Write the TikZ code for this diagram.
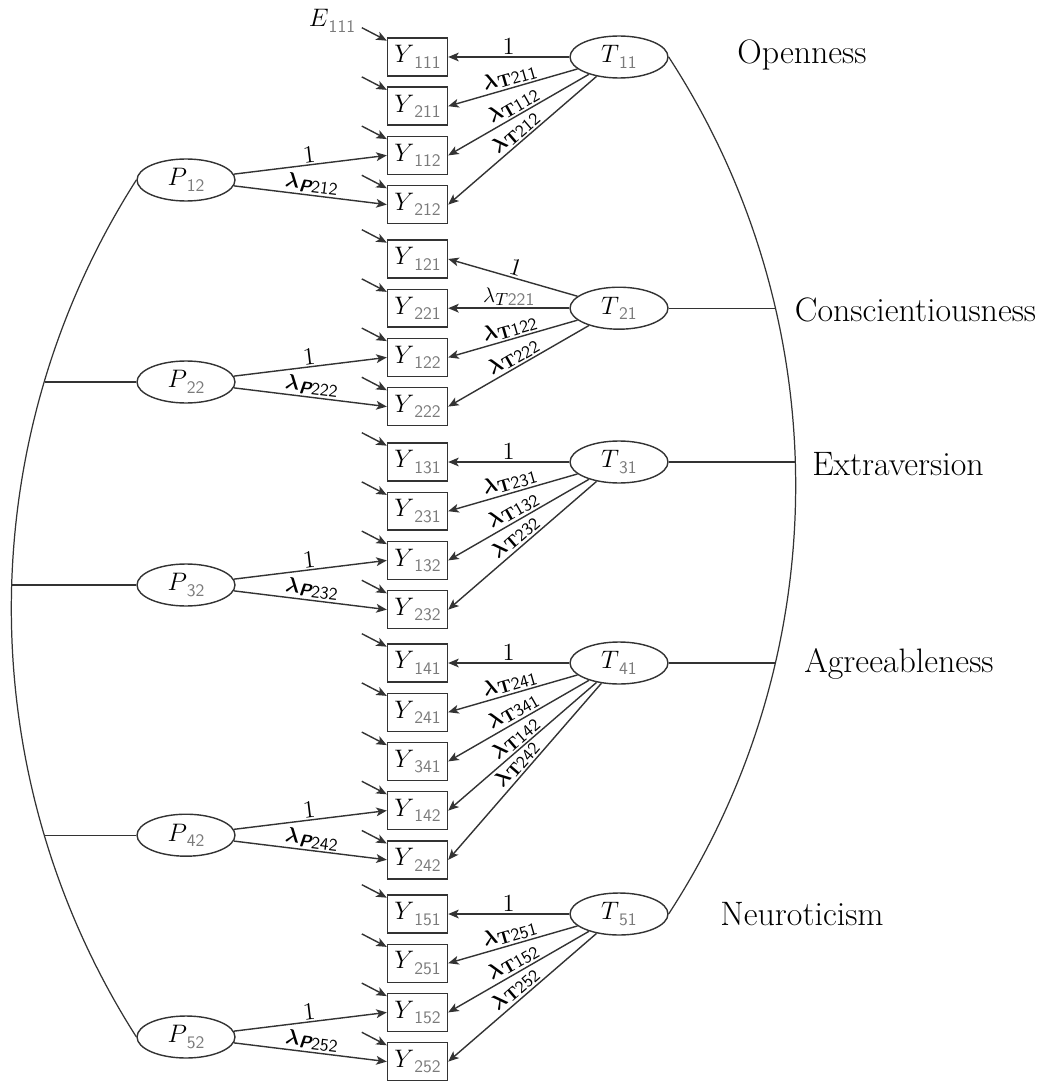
\documentclass[tikz,border=0pt]{standalone}
\usepackage{amsmath,bm}
\usetikzlibrary{arrows.meta,calc,shapes.geometric}
\definecolor{ln}{HTML}{333333}
\definecolor{sg}{HTML}{7A7A7A}
\newcommand{\gsub}[1]{\raisebox{-0.5ex}{\fontsize{10}{10}\selectfont\sffamily\color{sg}#1}}
\newcommand{\labT}[1]{$\bm{\lambda}$\raisebox{-0.3ex}{\fontsize{10}{10}\selectfont\textbf{T}\sffamily #1}}
\newcommand{\labTi}[1]{$\lambda$\raisebox{-0.3ex}{\fontsize{10}{10}\selectfont$T$\sffamily\color{sg}#1}}
\newcommand{\labP}[1]{$\bm{\lambda}$\raisebox{-0.3ex}{\fontsize{10}{10}\selectfont\sffamily\bfseries\itshape P\mdseries\upshape #1}}
\tikzset{
  obs/.style={rectangle, draw=ln, line width=0.8pt, minimum width=1.2cm, minimum height=0.76cm, inner sep=0pt, font=\fontsize{14.5}{14.5}\selectfont},
  lat/.style={ellipse, draw=ln, line width=0.8pt, minimum width=1.96cm, minimum height=0.84cm, inner sep=0pt, font=\fontsize{14.5}{14.5}\selectfont},
  arr/.style={draw=ln, line width=0.8pt, -{Stealth[length=6pt,width=5pt,inset=1.5pt]}},
  rarr/.style={draw=ln, line width=0.8pt, {Stealth[length=6pt,width=5pt,inset=1.5pt]}-},
  lab/.style={midway, above, sloped, inner sep=1pt, font=\fontsize{12.5}{12.5}\selectfont},
  one/.style={lab, font=\fontsize{14}{14}\selectfont},
  conn/.style={draw=ln, line width=0.7pt},
  cat/.style={font=\fontsize{19.3}{19.3}\selectfont}
}
\begin{document}
\begin{tikzpicture}[x=0.02cm, y=-0.02cm]
\useasboundingbox (0,0) rectangle (1039,1084);
% observed
\foreach \n/\yy in {111/57,211/106.2,112/155.4,212/204.6,
  121/259,221/308.2,122/357.4,222/406.6,
  131/462,231/511.2,132/560.4,232/609.6,
  141/663,241/712.2,341/761.4,142/810.6,242/859.8,
  151/914,251/963.2,152/1012.4,252/1061.6}{
  \node[obs] (Y\n) at (417.5,\yy) {$Y$\gsub{\n}};
  \coordinate (e\n) at ($(Y\n.152)+(-25,-13)$);
  \draw[arr] (e\n) -- (Y\n.152);
}
\node[font=\fontsize{14.5}{14.5}\selectfont] (E111) at (332,21) {$E$\gsub{111}};
% trait latents
\node[lat] (T11) at (619,57) {$T$\gsub{11}};
\node[lat] (T21) at (619,308.2) {$T$\gsub{21}};
\node[lat] (T31) at (619,462) {$T$\gsub{31}};
\node[lat] (T41) at (619,663) {$T$\gsub{41}};
\node[lat] (T51) at (619,914) {$T$\gsub{51}};
% P latents
\node[lat] (P12) at (186,180) {$P$\gsub{12}};
\node[lat] (P22) at (186,382) {$P$\gsub{22}};
\node[lat] (P32) at (186,585) {$P$\gsub{32}};
\node[lat] (P42) at (186,835.2) {$P$\gsub{42}};
\node[lat] (P52) at (186,1037) {$P$\gsub{52}};
% T loadings
\draw[rarr] (Y111.east) -- node[one]{1} (T11);
\draw[rarr] (Y211.east) -- node[lab]{\labT{211}} (T11);
\draw[rarr] (Y112.east) -- node[lab]{\labT{112}} (T11);
\draw[rarr] (Y212.east) -- node[lab]{\labT{212}} (T11);
\draw[rarr] (Y121.east) -- node[one]{1} (T21);
\draw[rarr] (Y221.east) -- node[lab]{\labTi{221}} (T21);
\draw[rarr] (Y122.east) -- node[lab]{\labT{122}} (T21);
\draw[rarr] (Y222.east) -- node[lab]{\labT{222}} (T21);
\draw[rarr] (Y131.east) -- node[one]{1} (T31);
\draw[rarr] (Y231.east) -- node[lab]{\labT{231}} (T31);
\draw[rarr] (Y132.east) -- node[lab]{\labT{132}} (T31);
\draw[rarr] (Y232.east) -- node[lab]{\labT{232}} (T31);
\draw[rarr] (Y141.east) -- node[one]{1} (T41);
\draw[rarr] (Y241.east) -- node[lab]{\labT{241}} (T41);
\draw[rarr] (Y341.east) -- node[lab]{\labT{341}} (T41);
\draw[rarr] (Y142.east) -- node[lab]{\labT{142}} (T41);
\draw[rarr] (Y242.east) -- node[lab]{\labT{242}} (T41);
\draw[rarr] (Y151.east) -- node[one]{1} (T51);
\draw[rarr] (Y251.east) -- node[lab]{\labT{251}} (T51);
\draw[rarr] (Y152.east) -- node[lab]{\labT{152}} (T51);
\draw[rarr] (Y252.east) -- node[lab]{\labT{252}} (T51);
% P loadings
\draw[arr] (P12) -- node[one]{1} (Y112.west);
\draw[arr] (P12) -- node[lab]{\labP{212}} (Y212.west);
\draw[arr] (P22) -- node[one]{1} (Y122.west);
\draw[arr] (P22) -- node[lab]{\labP{222}} (Y222.west);
\draw[arr] (P32) -- node[one]{1} (Y132.west);
\draw[arr] (P32) -- node[lab]{\labP{232}} (Y232.west);
\draw[arr] (P42) -- node[one]{1} (Y142.west);
\draw[arr] (P42) -- node[lab]{\labP{242}} (Y242.west);
\draw[arr] (P52) -- node[one]{1} (Y152.west);
\draw[arr] (P52) -- node[lab]{\labP{252}} (Y252.west);
% right arc
\draw[conn] (T11.east) arc[start angle=33.02, end angle=-33.02, radius=15.728cm];
\coordinate (r2) at (774.8,308.2);
\coordinate (r3) at (794.6,462);
\coordinate (r4) at (774.8,663);
\draw[conn] (T21.east) -- (r2);
\draw[conn] (T31.east) -- (r3);
\draw[conn] (T41.east) -- (r4);
% left arc
\draw[conn] (P12.west) arc[start angle=147.47, end angle=212.53, radius=15.938cm];
\coordinate (l2) at (44.9,382);
\coordinate (l3) at (12.3,585);
\coordinate (l4) at (44.9,835.2);
\draw[conn] (l2) -- (P22.west);
\draw[conn] (l3) -- (P32.west);
\draw[conn] (l4) -- (P42.west);
% category labels
\node[cat] (cO) at (802,55) {Openness};
\node[cat] (cC) at (915.5,310) {Conscientiousness};
\node[cat] (cE) at (898,464) {Extraversion};
\node[cat] (cA) at (899,664) {Agreeableness};
\node[cat] (cN) at (802,914) {Neuroticism};
\end{tikzpicture}
\end{document}
